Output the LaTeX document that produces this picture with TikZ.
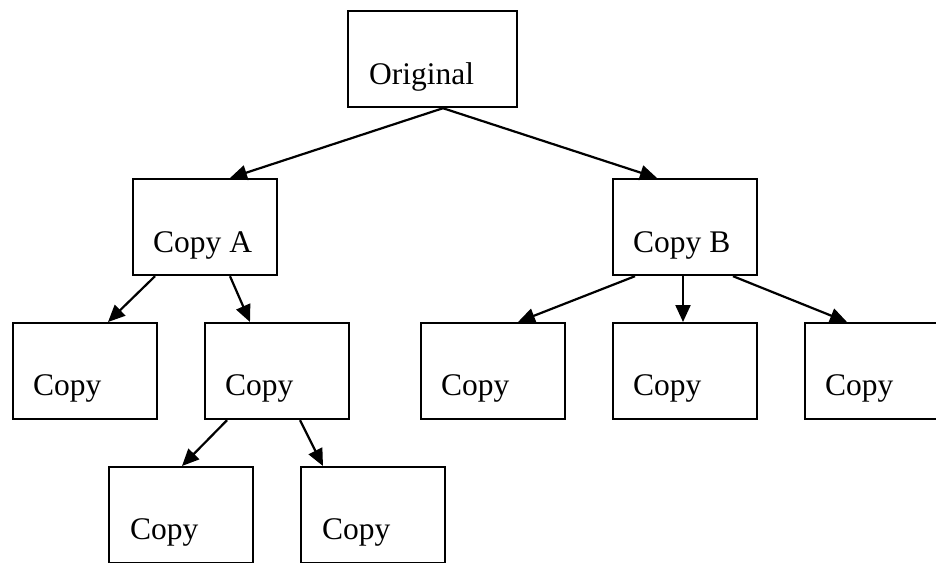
\documentclass[tikz,border=0pt]{standalone}
\usepackage{fontspec}
\setmainfont{Liberation Serif}
\usetikzlibrary{arrows.meta}
\begin{document}
\begin{tikzpicture}[x=1pt,y=-1pt,
  box/.style={draw=black,line width=2.2pt,rectangle,anchor=north west,inner sep=0pt,minimum width=144pt,minimum height=96pt},
  lbl/.style={anchor=base west,inner sep=0pt,font=\fontsize{31.5}{36}\selectfont},
  conn/.style={line width=2.2pt,-{Triangle[length=17pt,width=15pt]}}]
\useasboundingbox (0,0) rectangle (936,562);
\clip (0,0) rectangle (936,562);
\node[box,minimum width=169pt] (O) at (347,10) {};
\node[box] (A) at (132,178) {};
\node[box] (B) at (612,178) {};
\node[box] (r1) at (12,322) {};
\node[box] (r2) at (204,322) {};
\node[box] (r3) at (420,322) {};
\node[box] (r4) at (612,322) {};
\node[box] (r5) at (804,322) {};
\node[box] (s1) at (108,466) {};
\node[box] (s2) at (300,466) {};
\node[lbl] (tO) at ([xshift=22pt,yshift=24pt]O.south west) {Original};
\node[lbl] (tA) at ([xshift=21pt,yshift=24pt]A.south west) {Copy A};
\node[lbl] (tB) at ([xshift=21pt,yshift=24pt]B.south west) {Copy B};
\node[lbl] (t1) at ([xshift=21pt,yshift=25pt]r1.south west) {Copy};
\node[lbl] (t2) at ([xshift=21pt,yshift=25pt]r2.south west) {Copy};
\node[lbl] (t3) at ([xshift=21pt,yshift=25pt]r3.south west) {Copy};
\node[lbl] (t4) at ([xshift=21pt,yshift=25pt]r4.south west) {Copy};
\node[lbl] (t5) at ([xshift=21pt,yshift=25pt]r5.south west) {Copy};
\node[lbl] (u1) at ([xshift=22pt,yshift=25pt]s1.south west) {Copy};
\node[lbl] (u2) at ([xshift=22pt,yshift=25pt]s2.south west) {Copy};
\draw[conn] ([xshift=96pt]O.south west) -- ([xshift=98pt]A.north west);
\draw[conn] ([xshift=96pt]O.south west) -- ([xshift=45pt]B.north west);
\draw[conn] ([xshift=23pt]A.south west) -- ([xshift=96pt]r1.north west);
\draw[conn] ([xshift=98pt]A.south west) -- ([xshift=46pt]r2.north west);
\draw[conn] ([xshift=23pt]B.south west) -- ([xshift=98pt]r3.north west);
\draw[conn] ([xshift=71pt]B.south west) -- ([xshift=71pt]r4.north west);
\draw[conn] ([xshift=121pt]B.south west) -- ([xshift=43pt]r5.north west);
\draw[conn] ([xshift=23pt]r2.south west) -- ([xshift=74pt]s1.north west);
\draw[conn] ([xshift=96pt]r2.south west) -- ([xshift=23pt]s2.north west);
\end{tikzpicture}
\end{document}
